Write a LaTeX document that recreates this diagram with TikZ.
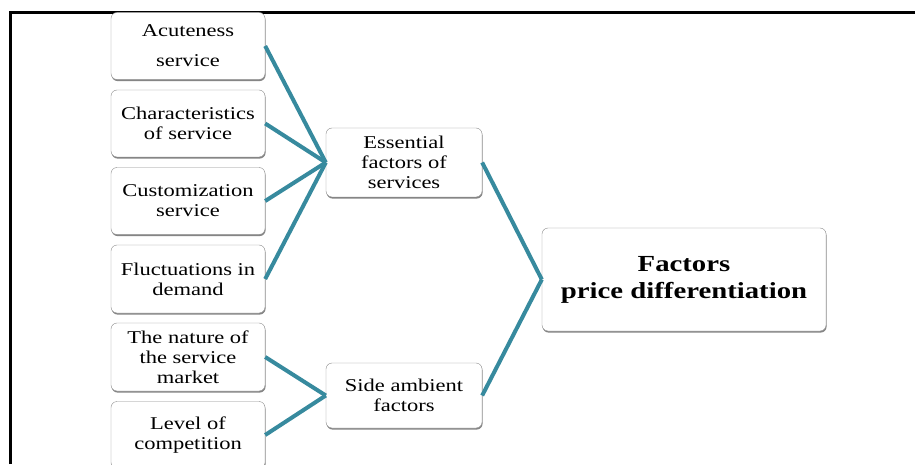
\documentclass[tikz,border=0pt]{standalone}
\usepackage{fontspec}
\setmainfont{Liberation Serif}[FakeStretch=1.25]
\usetikzlibrary{shadows}
\definecolor{linkteal}{RGB}{55,138,158}
\begin{document}
\begin{tikzpicture}[x = 1pt, y = 1pt,
  factor/.style = {draw = black!45, fill = white, rounded corners = 6pt, align = center, inner sep = 0pt,
    minimum width = 154pt, minimum height = 67pt, font = \fontsize{18}{20}\selectfont,
    drop shadow = {shadow xshift = 0.6pt, shadow yshift = -1.6pt, fill = black!60, opacity = 0.8}},
  link/.style = {draw = linkteal, line width = 4pt}]
\useasboundingbox (0, 0) rectangle (915, 464);

\draw [line width = 3pt] (10, 0) -- (10, 451) -- (915, 451);

\node [factor] (acute) at (188, 418) {Acuteness\\[10pt]service};
\node [factor] (charact) at (188, 340.5) {Characteristics\\of service};
\node [factor] (custom) at (188, 263) {Customization\\service};
\node [factor, minimum height = 68pt] (fluct) at (188, 185) {Fluctuations in\\demand};
\node [factor, minimum height = 68pt] (nature) at (188, 107) {The nature of\\the service\\market};
\node [factor] (level) at (188, 29) {Level of\\competition};

\node [factor, minimum width = 156pt, minimum height = 69pt] (essential) at (404, 301.5) {Essential\\factors of\\services};
\node [factor, minimum width = 156pt, minimum height = 65pt] (side) at (404, 68.5) {Side ambient\\factors};

\node [factor, minimum width = 284pt, minimum height = 103pt, font = \fontsize{23}{27}\selectfont\bfseries] (price) at (684, 184.5) {Factors\\price differentiation};

\draw [link] (acute.east) -- (essential.west);
\draw [link] (charact.east) -- (essential.west);
\draw [link] (custom.east) -- (essential.west);
\draw [link] (fluct.east) -- (essential.west);

\draw [link] (nature.east) -- (side.west);
\draw [link] (level.east) -- (side.west);

\draw [link] (essential.east) -- (price.west);
\draw [link] (side.east) -- (price.west);
\end{tikzpicture}
\end{document}
